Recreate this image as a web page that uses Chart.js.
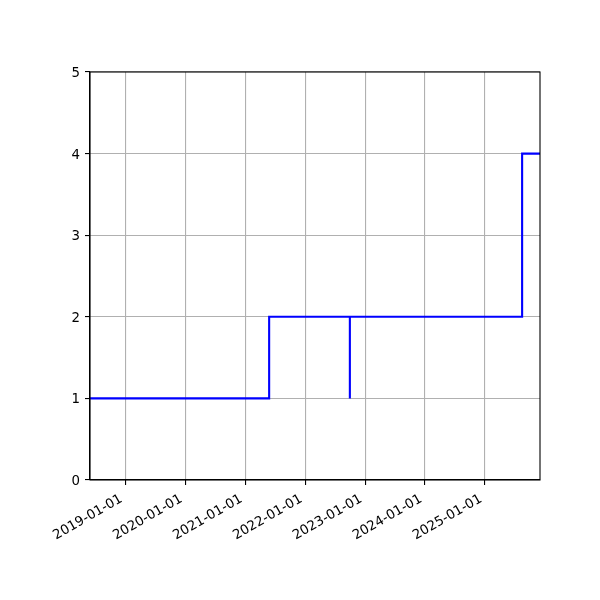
<!DOCTYPE html>
<html>
<head>
<meta charset="utf-8">
<script src="https://cdn.jsdelivr.net/npm/chart.js@4/dist/chart.umd.min.js"></script>
<style>
  html, body { margin: 0; padding: 0; background: #ffffff; }
  #wrap { width: 600px; height: 600px; }
</style>
</head>
<body>
<div id="wrap"><canvas id="c" width="600" height="600"></canvas></div>
<script>
// Data
const dates  = ["2018-05-30", "2021-05-26", "2022-09-30", "2022-09-30", "2025-08-15", "2025-12-02"];
const values = [1, 2, 1, 2, 4, 4];
const xTickDates = ["2019-01-01", "2020-01-01", "2021-01-01", "2022-01-01", "2023-01-01", "2024-01-01", "2025-01-01"];
const yTicks = [0, 1, 2, 3, 4, 5];
const xMinDate = "2018-05-30";
const xMaxDate = "2025-12-02";

const toMs = s => Date.parse(s + "T00:00:00Z");
const fmt = ms => new Date(ms).toISOString().slice(0, 10);

const points = dates.map((d, i) => ({ x: toMs(d), y: values[i] }));

const frame = {
  id: 'frame',
  afterDraw(chart) {
    const { ctx, chartArea: a } = chart;
    ctx.save();
    ctx.strokeStyle = '#000000';
    ctx.lineWidth = 1.1;
    ctx.strokeRect(a.left, a.top, a.right - a.left, a.bottom - a.top);
    ctx.restore();
  }
};

const font = { family: "'DejaVu Sans', sans-serif", size: 13.33 };

new Chart(document.getElementById('c'), {
  type: 'line',
  data: {
    datasets: [{
      data: points,
      stepped: 'before',
      borderColor: '#0000ff',
      borderWidth: 2.1,
      pointRadius: 0,
      fill: false,
      tension: 0
    }]
  },
  options: {
    responsive: false,
    animation: false,
    devicePixelRatio: 1,
    layout: { padding: { left: 0, right: 60, top: 72, bottom: 0 } },
    plugins: { legend: { display: false }, tooltip: { enabled: false } },
    scales: {
      x: {
        type: 'linear',
        min: toMs(xMinDate),
        max: toMs(xMaxDate),
        afterBuildTicks(scale) {
          scale.ticks = xTickDates.map(d => ({ value: toMs(d) }));
        },
        afterFit(scale) { scale.height = 120; },
        ticks: {
          autoSkip: false,
          minRotation: 30,
          maxRotation: 30,
          padding: 6,
          labelOffset: -4,
          color: '#000000',
          font: font,
          callback: v => fmt(v)
        },
        grid: { color: '#b0b0b0', lineWidth: 1.1, tickColor: '#000000', tickLength: 5 },
        border: { color: '#000000', width: 1.1 }
      },
      y: {
        min: 0,
        max: 5,
        afterBuildTicks(scale) {
          scale.ticks = yTicks.map(v => ({ value: v }));
        },
        afterFit(scale) { scale.width = 90; },
        ticks: { color: '#000000', font: font, padding: 5, labelOffset: 1.5 },
        grid: { color: '#b0b0b0', lineWidth: 1.1, tickColor: '#000000', tickLength: 5 },
        border: { color: '#000000', width: 1.1 }
      }
    }
  },
  plugins: [frame]
});
</script>
</body>
</html>
